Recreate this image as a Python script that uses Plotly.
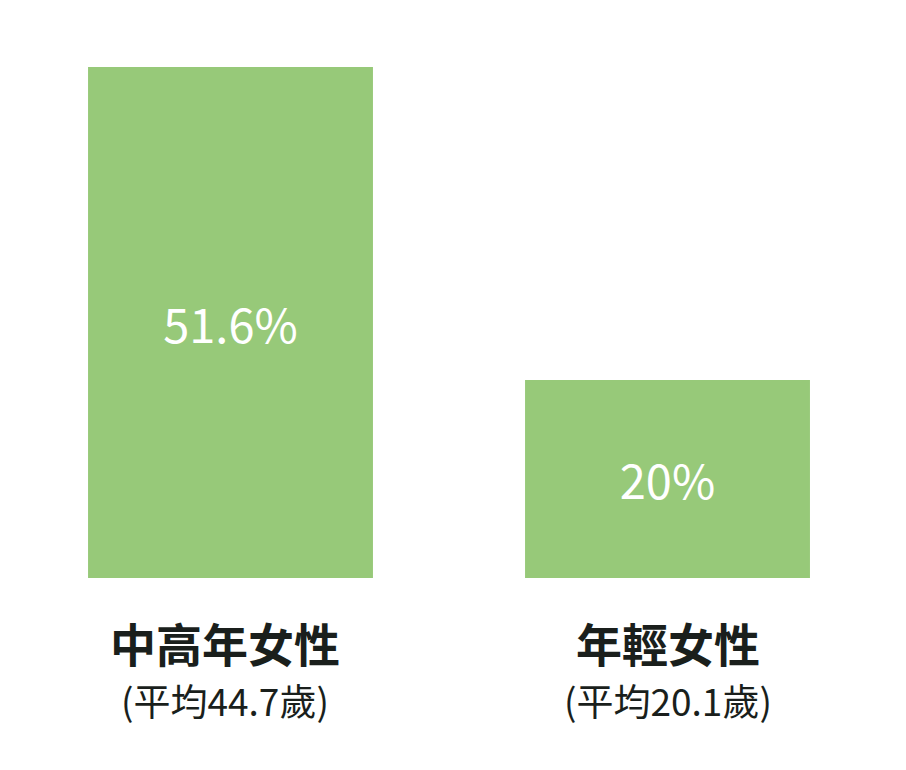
import plotly.graph_objects as go

categories = ["中高年女性", "年輕女性"]
subtitles = ["(平均44.7歲)", "(平均20.1歲)"]
values = [51.6, 20]
value_labels = ["51.6%", "20%"]

GREEN = "#97c979"
DARK = "#1a1f1c"
FONT = "Noto Sans CJK TC"
LABEL_XSHIFT = [-6, 0]  # first label sits a bit left of its bar in the original

fig = go.Figure(
    go.Bar(
        x=categories,
        y=values,
        text=value_labels,
        textposition="inside",
        insidetextanchor="middle",
        textangle=0,
        textfont=dict(family=FONT, size=47, color="white"),
        marker=dict(color=GREEN, line=dict(width=0)),
        width=0.652,
        hoverinfo="skip",
    )
)

# category names + age line under each bar
for cat, sub, dx in zip(categories, subtitles, LABEL_XSHIFT):
    fig.add_annotation(x=cat, y=0, yref="y", text=f"<b>{cat}</b>",
                       showarrow=False, yanchor="middle", yshift=-64, xshift=dx,
                       font=dict(family=FONT, size=46, color=DARK))
    fig.add_annotation(x=cat, y=0, yref="y", text=sub,
                       showarrow=False, yanchor="middle", yshift=-122, xshift=dx,
                       font=dict(family=FONT, size=37, color=DARK))

# page body adds 8px, margins compensate for it
fig.update_layout(
    width=906,
    height=770,
    margin=dict(l=4, r=28, t=59, b=200, autoexpand=False),
    paper_bgcolor="white",
    plot_bgcolor="white",
    showlegend=False,
    uniformtext=dict(minsize=10, mode="show"),
    font=dict(family=FONT, color=DARK),
)
fig.update_xaxes(visible=False, range=[-0.5, 1.5])
fig.update_yaxes(visible=False, range=[0, 51.6], fixedrange=True)

fig.write_html("out.html")
